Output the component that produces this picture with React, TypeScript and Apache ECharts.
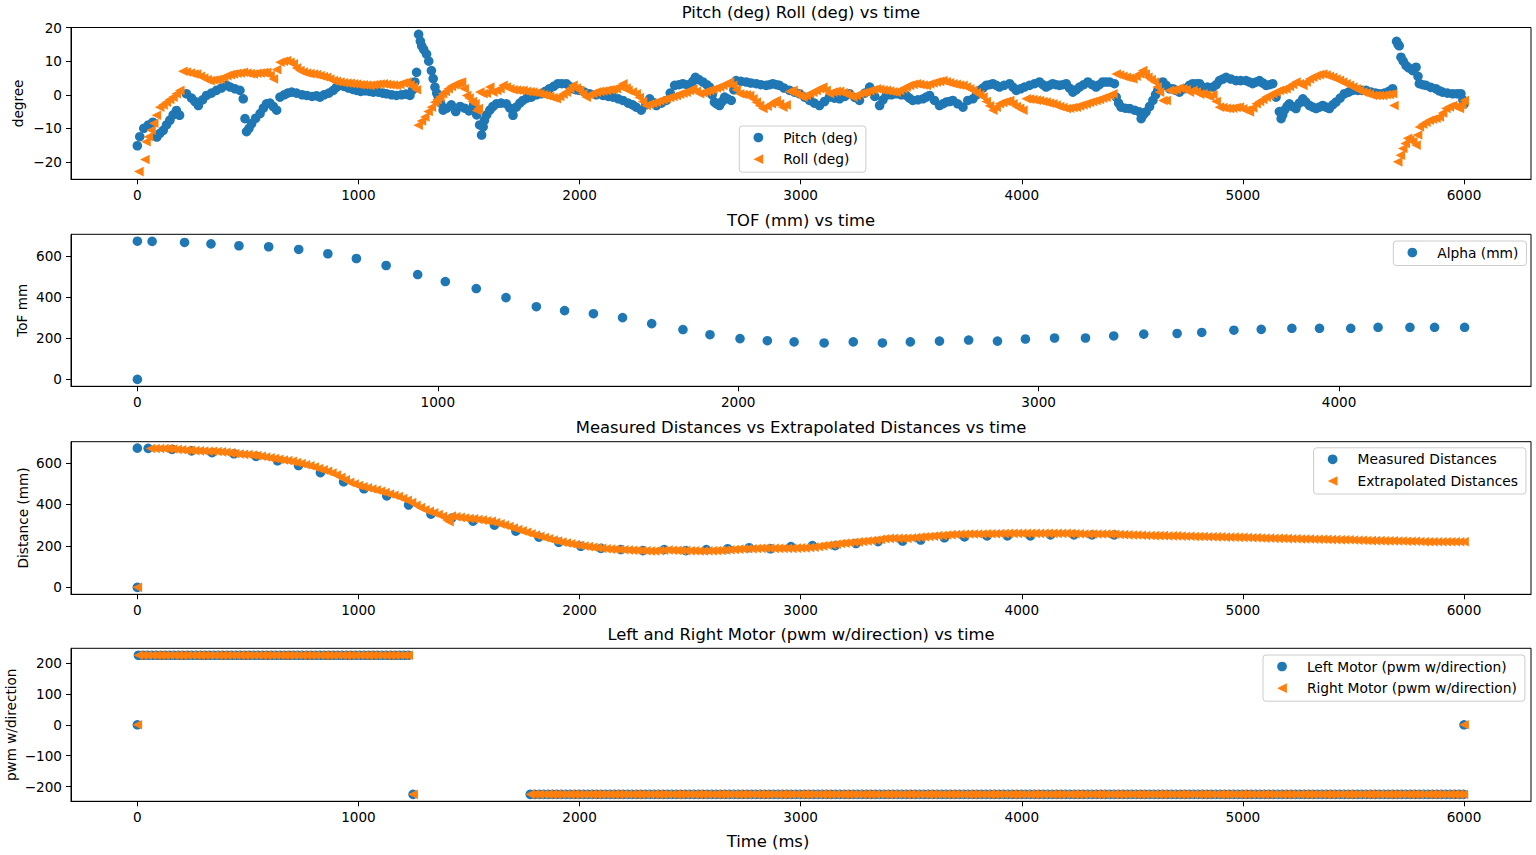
import { useEffect, useRef } from 'react';
import * as echarts from 'echarts';

const BLUE = '#1f77b4';
const ORANGE = '#ff7f0e';
const FONT = 'DejaVu Sans';
const TRIANGLE_LEFT = 'path://M0,5L10,0L10,10Z';

// [time ms, degrees]
const pitch = [
  [0, -15.2], [11, -12.5], [29, -10], [50, -9], [70, -8.2], [88, -12.6], [102, -11.5], [117, -10.6], [132, -9], [147, -7.6],
  [162, -6], [177, -4.7], [191, -6.1], [222, 0.3], [245, -1], [260, -2], [276, -3.2], [295, -1.5], [313, -0.2], [335, 0.5],
  [358, 1.3], [380, 2], [404, 2.8], [420, 2.3], [441, 1.8], [464, 1.3], [479, -1.2], [487, -7.1], [494, -11], [505, -10],
  [517, -8.6], [535, -7], [555, -5.6], [570, -4], [584, -2.7], [600, -2.5], [615, -3.5], [630, -4.6], [645, -0.7], [665, 0],
  [680, 0.5], [698, 0.8], [720, 0.5], [745, 0], [766, -0.2], [790, -0.5], [810, -0.3], [826, -0.7], [845, 0], [866, 0.5],
  [886, 1.3], [900, 2.2], [916, 2.8], [935, 2.5], [955, 2], [975, 1.6], [992, 1.3], [1010, 1], [1030, 1.2], [1050, 1],
  [1067, 0.8], [1090, 0.8], [1110, 0.5], [1127, 0.3], [1150, 0], [1172, -0.2], [1195, 0], [1215, 0.2], [1233, -0.2], [1245, 1.5],
  [1255, 3.8], [1263, 6.7], [1272, 18], [1280, 16], [1286, 14.6], [1295, 13.5], [1308, 12.1], [1318, 10], [1330, 7.2], [1338, 4.8],
  [1346, 2.3], [1354, 0.5], [1361, -0.7], [1372, -2.5], [1383, -4.6], [1400, -4], [1420, -3], [1440, -5], [1460, -3.5], [1480, -4],
  [1500, -4.8], [1520, -3.2], [1535, -6], [1548, -9], [1557, -12], [1564, -9.6], [1570, -7.6], [1580, -6], [1594, -4.6], [1608, -3.5],
  [1624, -2.7], [1645, -2.5], [1669, -2.7], [1685, -4], [1699, -6.1], [1714, -3.7], [1730, -2.5], [1744, -1.7], [1762, -1], [1782, -0.7],
  [1805, 0], [1827, 0.3], [1845, 1], [1864, 1.8], [1883, 2.5], [1902, 3.3], [1920, 3.3], [1940, 3.3], [1955, 2.5], [1970, 1.8],
  [1985, 1.5], [2000, 1.3], [2022, 0.8], [2045, 0.3], [2075, 0], [2106, -0.2], [2130, -0.5], [2151, -0.7], [2175, -1.2], [2196, -1.7],
  [2220, -2.5], [2240, -3], [2256, -3.7], [2279, -4.6], [2300, -3], [2317, -1.2], [2333, -2.3], [2347, -3.2], [2370, -2.5], [2392, -1.7],
  [2410, 0.5], [2430, 2.8], [2450, 3], [2467, 3.3], [2485, 3], [2497, 2.8], [2512, 4], [2524, 5.2], [2540, 4.5], [2558, 3.8],
  [2575, 3], [2588, 2.3], [2600, 0], [2610, -2.2], [2620, -2.7], [2633, -3.2], [2645, -2], [2656, -0.7], [2670, -1.2], [2686, -1.7],
  [2698, 1.5], [2708, 4.2], [2730, 4], [2754, 3.8], [2775, 3.5], [2799, 3.3], [2820, 3], [2844, 2.8], [2860, 3], [2874, 3.3],
  [2890, 3], [2904, 2.8], [2925, 2], [2950, 1.3], [2972, 0.8], [2995, 0.3], [3018, -0.7], [3040, -1.7], [3062, -2.5], [3085, -3.2],
  [3108, -2], [3130, -0.7], [3153, -1], [3176, -1.2], [3200, -0.5], [3221, 0.3], [3245, -0.8], [3266, -1.7], [3290, 0.5], [3312, 2.3],
  [3335, -0.5], [3357, -3.2], [3372, -1.5], [3387, -0.2], [3410, 0], [3432, 0.3], [3455, 0], [3477, -0.2], [3492, -1], [3507, -1.7],
  [3530, -1.5], [3553, -1.2], [3568, -0.7], [3583, -0.2], [3605, -1.7], [3628, -3.2], [3643, -2.7], [3658, -2.2], [3675, -2], [3688, -1.7],
  [3710, -2.7], [3734, -3.7], [3756, -1.7], [3779, -1.2], [3795, 0], [3809, 1.3], [3824, 2], [3839, 2.8], [3855, 3], [3869, 3.3],
  [3885, 2.8], [3899, 2.3], [3920, 2.8], [3945, 3.3], [3960, 2.3], [3975, 1.3], [3995, 1.8], [4012, 2.3], [4035, 2.8], [4058, 3.3],
  [4080, 3.8], [4095, 3], [4110, 2.3], [4125, 2.8], [4140, 3.3], [4155, 3], [4171, 2.8], [4186, 3], [4201, 3.3], [4216, 2],
  [4231, 0.8], [4246, 1.5], [4261, 2.3], [4280, 3], [4299, 3.8], [4318, 3], [4336, 2.3], [4351, 3], [4366, 3.8], [4381, 3.8],
  [4397, 3.8], [4419, 3.3], [4427, -0.7], [4438, -2.5], [4449, -3.7], [4468, -4], [4487, -4.1], [4510, -4.6], [4532, -5.1], [4540, -7.1],
  [4550, -6], [4562, -5.1], [4578, -3.5], [4593, -1.7], [4605, 0], [4615, 1.3], [4628, 2.8], [4638, 3.8], [4653, 2.8], [4668, 1.8],
  [4683, 1.8], [4698, 1.3], [4713, 0.8], [4735, 1.8], [4758, 2.8], [4773, 3.3], [4790, 3.3], [4804, 3.3], [4818, 2.3], [4840, 2.3],
  [4864, 2.3], [4880, 3], [4894, 4.2], [4910, 4.7], [4924, 5.2], [4945, 4.7], [4969, 4.2], [4990, 4.2], [5014, 4.2], [5030, 3.8],
  [5044, 3.3], [5060, 3.8], [5075, 4.2], [5090, 3.5], [5105, 2.8], [5120, 3], [5135, 3.3], [5150, -0.7], [5165, -5], [5173, -7.1],
  [5180, -6], [5188, -4.6], [5200, -3.5], [5210, -2.7], [5225, -3.5], [5240, -4.1], [5255, -2.5], [5271, -1.2], [5285, -2.2], [5301, -3.2],
  [5316, -3.7], [5331, -4.1], [5346, -3.7], [5361, -3.2], [5376, -3.7], [5391, -4.1], [5406, -3], [5421, -2.2], [5440, -1], [5459, 0.3],
  [5478, 0.8], [5497, 1.3], [5520, 1.3], [5540, 1.3], [5557, 1.3], [5580, 0.8], [5600, 0.5], [5617, 0.3], [5640, 0.5], [5660, 1],
  [5677, 1.8], [5695, 15.9], [5702, 15], [5707, 14.6], [5715, 11.2], [5725, 10], [5738, 8.7], [5750, 8], [5768, 7.2], [5783, 8.2],
  [5792, 5.5], [5798, 3.3], [5813, 3], [5828, 2.8], [5850, 2.2], [5873, 1.8], [5888, 1.2], [5903, 0.8], [5925, 0.5], [5949, 0.3],
  [5970, 0.3], [5986, 0.3], [5995, -1.5], [6001, -2.7],
];

const roll = [
  [7, -22.9], [34, -19.3], [39, -14], [50, -12.5], [62, -10.6], [74, -8.5], [86, -6.1], [101, -3.7], [116, -3], [131, -2.2],
  [146, -1.4], [161, -0.7], [176, 0.3], [192, 1.3], [206, 7], [222, 6.8], [240, 6.5], [255, 6.2], [268, 6.2], [285, 5.5],
  [300, 5], [315, 4.5], [329, 4.2], [345, 4.4], [360, 4.5], [374, 4.7], [390, 5.2], [405, 5.7], [420, 6], [434, 6.2],
  [450, 6.4], [465, 6.5], [479, 6.7], [495, 6.5], [510, 6.3], [524, 6.2], [540, 6.4], [555, 6.5], [570, 6.6], [585, 6.7],
  [600, 5.8], [615, 4.7], [630, 7.5], [645, 9.7], [660, 10], [675, 10.2], [690, 9.7], [705, 9.2], [720, 8], [735, 7.2],
  [750, 6.8], [765, 6.5], [780, 6.3], [796, 6.2], [810, 6], [826, 5.7], [841, 5.4], [856, 5.2], [870, 4.7], [886, 4.2],
  [900, 4], [916, 3.8], [932, 3.6], [947, 3.5], [962, 3.4], [977, 3.3], [992, 3.2], [1007, 3], [1022, 3], [1037, 2.9],
  [1052, 2.8], [1067, 3], [1082, 3.1], [1097, 3.2], [1112, 3.3], [1127, 3.1], [1142, 3], [1157, 2.9], [1172, 2.8], [1187, 3.1],
  [1202, 3.5], [1218, 3.8], [1233, 3], [1248, 2.3], [1262, 1.5], [1270, -9.1], [1285, -7.8], [1300, -6.6], [1315, -5], [1330, -3.7],
  [1345, -2.2], [1355, -1.5], [1368, -0.7], [1380, 0.3], [1393, 1], [1406, 1.8], [1420, 2.5], [1434, 3], [1444, 3.3], [1455, 3.5],
  [1466, 3.8], [1478, 1.8], [1489, -0.2], [1500, -1], [1515, -2], [1527, -2.7], [1535, -4.7], [1542, -4.1], [1549, 0.8], [1563, 0.3],
  [1578, 0.5], [1594, 2.3], [1608, 0.8], [1625, 1.3], [1640, 1.8], [1654, 2.8], [1669, 2.3], [1684, 1.8], [1699, 1.5], [1714, 1.4],
  [1729, 1.3], [1744, 1.3], [1760, 1], [1775, 0.9], [1789, 0.8], [1805, 0.6], [1820, 0.3], [1835, 0], [1849, -0.2], [1865, -0.5],
  [1880, -0.9], [1895, -1.2], [1910, -0.5], [1925, 0.2], [1940, 0.8], [1955, 1.8], [1970, 2.8], [1985, 2], [2000, 1.3], [2015, 0.3],
  [2030, -0.7], [2045, 0], [2060, 0.4], [2075, 0.8], [2090, 1], [2105, 1.1], [2121, 1.3], [2136, 1.5], [2151, 1.6], [2166, 1.8],
  [2181, 2.5], [2196, 3.3], [2210, 2], [2219, 1.3], [2238, 0.8], [2256, 0.3], [2270, -0.8], [2285, -2], [2301, -3.2], [2316, -2.8],
  [2331, -2.5], [2347, -2.2], [2362, -1.8], [2377, -1.5], [2392, -1.2], [2407, -0.8], [2422, -0.5], [2437, -0.2], [2452, 0.2], [2467, 0.5],
  [2482, 0.8], [2497, 1.3], [2512, 1.8], [2528, 1], [2543, 0.3], [2558, 0.6], [2573, 1], [2588, 1.3], [2603, 1.6], [2618, 2],
  [2633, 2.3], [2648, 2.8], [2663, 3.3], [2678, 3.8], [2693, 2.8], [2708, 1.5], [2724, 0.3], [2739, 0.1], [2754, 0], [2769, -0.2],
  [2784, -1.2], [2799, -2.2], [2814, -3.2], [2829, -4.1], [2848, -3.4], [2867, -2.7], [2878, -2.2], [2889, -1.7], [2904, -2.7], [2919, -3.7],
  [2934, -3], [2950, 1], [2965, 1.3], [2980, 0.3], [2995, -0.3], [3010, -0.7], [3025, -0.2], [3040, 0.3], [3055, 0.8], [3070, 1.3],
  [3085, 1.8], [3100, 2.3], [3115, 1.3], [3130, 0.3], [3145, 0.8], [3160, 1], [3176, 1], [3191, 0.6], [3206, 0.2], [3221, -0.2],
  [3236, -0.7], [3251, -0.2], [3266, 0.3], [3282, 0.6], [3297, 0.8], [3312, 1.2], [3327, 1.5], [3342, 1.8], [3357, 1.6], [3372, 1.4],
  [3387, 1.3], [3402, 1.1], [3417, 0.9], [3432, 0.8], [3447, 1.3], [3462, 1.8], [3477, 2.3], [3492, 2.8], [3508, 3.1], [3523, 3.3],
  [3538, 3.1], [3553, 2.9], [3568, 2.8], [3583, 3.2], [3598, 3.5], [3613, 3.8], [3628, 4], [3643, 4.2], [3658, 3.9], [3673, 3.6],
  [3688, 3.3], [3703, 3.1], [3718, 2.9], [3734, 2.8], [3749, 2.3], [3764, 1.8], [3779, 1.3], [3794, 0.6], [3809, 0], [3824, -0.7],
  [3839, -2], [3854, -3.3], [3869, -4.6], [3884, -3.7], [3899, -2.7], [3914, -2.3], [3929, -2], [3945, -1.7], [3960, -2.7], [3975, -3.5],
  [3990, -4], [4005, -4.6], [4020, -1.2], [4035, -1.3], [4050, -1.4], [4065, -1.6], [4080, -1.7], [4095, -2], [4110, -2.2], [4125, -2.5],
  [4140, -2.7], [4155, -3.1], [4171, -3.5], [4186, -3.8], [4201, -4.1], [4216, -4], [4231, -3.8], [4246, -3.7], [4261, -3.3], [4276, -3],
  [4291, -2.7], [4306, -2.3], [4321, -2], [4336, -1.7], [4351, -1.4], [4366, -1], [4381, -0.7], [4397, -0.2], [4412, 0.3], [4427, 6.2],
  [4442, 5.9], [4457, 5.5], [4472, 5.2], [4487, 5], [4502, 4.7], [4517, 5.5], [4532, 6.3], [4547, 7.2], [4558, 6.2], [4570, 5.2],
  [4585, 4.5], [4600, 3.8], [4612, 2.3], [4623, 0.8], [4638, -1.7], [4653, -1.7], [4668, 1.3], [4683, 1.3], [4698, 1.6], [4713, 2],
  [4728, 1.8], [4743, 1.5], [4758, 0.8], [4774, 1.3], [4789, 0.8], [4804, 0.2], [4819, 0.3], [4834, -0.1], [4849, -0.5], [4864, 0],
  [4879, -2], [4894, -3.7], [4909, -3.8], [4924, -4], [4939, -4.1], [4954, -4], [4969, -3.8], [4984, -3.7], [4999, -4.2], [5014, -4.6],
  [5029, -5.1], [5044, -3.9], [5060, -2.7], [5075, -2], [5090, -1.4], [5105, -0.7], [5120, -0.2], [5135, 0.3], [5150, 0.8], [5165, 1.3],
  [5180, 1.5], [5195, 1.8], [5210, 2.5], [5225, 3.1], [5240, 3.8], [5255, 3.3], [5271, 2.8], [5286, 3.8], [5301, 4.7], [5316, 5.2],
  [5331, 5.7], [5346, 6], [5361, 6.2], [5376, 5.9], [5391, 5.5], [5406, 5.2], [5421, 4.7], [5436, 4.3], [5451, 3.8], [5466, 3.3],
  [5482, 2.8], [5497, 2.3], [5512, 1.8], [5527, 1.3], [5542, 0.8], [5557, 0.5], [5572, 0.2], [5587, -0.2], [5602, -0.2], [5617, -0.2],
  [5632, -0.2], [5647, 0], [5662, 0.1], [5677, 0.3], [5683, -3.2], [5700, -20], [5712, -18], [5723, -16], [5734, -14.5], [5745, -13],
  [5755, -13.5], [5768, -14], [5783, -15], [5790, -12], [5798, -9.6], [5813, -8.8], [5828, -8.2], [5843, -7.6], [5858, -7.3], [5873, -7],
  [5888, -6.6], [5903, -5.4], [5918, -4.1], [5933, -3.6], [5949, -3.2], [5964, -3.6], [5979, -4.1], [5990, -2.9], [6001, -1.7],
];

// time-of-flight readings (ms, mm)
const tofTimes = [
  0, 0, 49, 157, 245, 338, 437, 537, 634, 729, 828, 933, 1025, 1128, 1227, 1328, 1422, 1518, 1615, 1712, 1816, 1906, 2006, 2097,
  2186, 2286, 2383, 2480, 2573, 2670, 2767, 2863, 2956, 3053, 3156, 3250, 3350, 3461, 3543, 3650, 3741, 3843, 3935, 4039, 4130, 4236,
  4318, 4418,
];
const tofValues = [
  0, 671, 670, 665, 658, 649, 644, 631, 610, 587, 553, 509, 475, 441, 397, 353, 334, 319, 300, 271, 242, 217, 198, 188,
  182, 177, 182, 177, 182, 186, 191, 186, 196, 201, 201, 211, 220, 223, 228, 239, 243, 248, 248, 248, 253, 253,
  253, 253,
];

// [time ms, mm]
const extrapolated = [
  [0, 0], [60, 669], [80, 669], [100, 669], [120, 669], [140, 668], [160, 667], [180, 665], [200, 663], [220, 661],
  [240, 660], [260, 659], [280, 658], [300, 657], [320, 656], [340, 656], [360, 655], [380, 653], [400, 651], [420, 648],
  [440, 645], [460, 643], [480, 641], [500, 640], [520, 638], [540, 635], [560, 632], [580, 628], [600, 624], [620, 621],
  [640, 617], [660, 614], [680, 611], [700, 607], [720, 602], [740, 597], [760, 591], [780, 586], [800, 580], [820, 573],
  [840, 566], [860, 559], [880, 551], [900, 541], [920, 530], [940, 518], [960, 506], [980, 498], [1000, 491], [1020, 485],
  [1040, 480], [1060, 474], [1080, 469], [1100, 463], [1120, 457], [1140, 450], [1160, 444], [1180, 437], [1200, 428], [1220, 420],
  [1240, 409], [1260, 396], [1280, 384], [1300, 374], [1320, 366], [1340, 359], [1360, 351], [1380, 342], [1400, 325], [1410, 316],
  [1420, 344], [1440, 340], [1460, 337], [1480, 334], [1500, 332], [1520, 330], [1540, 327], [1560, 324], [1580, 321], [1600, 318],
  [1620, 312], [1640, 306], [1660, 300], [1680, 293], [1700, 286], [1720, 279], [1740, 272], [1760, 265], [1780, 258], [1800, 252],
  [1820, 246], [1840, 240], [1860, 234], [1880, 228], [1900, 223], [1920, 218], [1940, 214], [1960, 210], [1980, 206], [2000, 202],
  [2020, 199], [2040, 196], [2060, 193], [2080, 191], [2100, 188], [2120, 186], [2140, 184], [2160, 183], [2180, 182], [2200, 181],
  [2220, 180], [2240, 179], [2260, 178], [2280, 177], [2300, 176], [2320, 175], [2340, 175], [2360, 177], [2380, 179], [2400, 180],
  [2420, 179], [2440, 178], [2460, 177], [2480, 177], [2500, 176], [2520, 176], [2540, 175], [2560, 175], [2580, 176], [2600, 176],
  [2620, 177], [2640, 178], [2660, 180], [2680, 181], [2700, 182], [2720, 184], [2740, 185], [2760, 186], [2780, 186], [2800, 187],
  [2820, 188], [2840, 189], [2860, 188], [2880, 188], [2900, 188], [2920, 188], [2940, 188], [2960, 188], [2980, 189], [3000, 190],
  [3020, 190], [3040, 192], [3060, 194], [3080, 197], [3100, 200], [3120, 203], [3140, 205], [3160, 208], [3180, 211], [3200, 213],
  [3220, 215], [3240, 217], [3260, 219], [3280, 221], [3300, 223], [3320, 225], [3340, 228], [3360, 231], [3380, 234], [3400, 236],
  [3420, 236], [3440, 236], [3460, 236], [3480, 236], [3500, 238], [3520, 240], [3540, 242], [3560, 244], [3580, 245], [3600, 247],
  [3620, 249], [3640, 250], [3660, 252], [3680, 254], [3700, 255], [3720, 256], [3740, 256], [3760, 257], [3780, 257], [3800, 257],
  [3820, 257], [3840, 258], [3860, 258], [3880, 258], [3900, 259], [3920, 259], [3940, 260], [3960, 260], [3980, 260], [4000, 260],
  [4020, 260], [4040, 260], [4060, 260], [4080, 260], [4100, 260], [4120, 260], [4140, 260], [4160, 260], [4180, 260], [4200, 260],
  [4220, 259], [4240, 258], [4260, 258], [4280, 257], [4300, 257], [4320, 257], [4340, 257], [4360, 257], [4380, 257], [4400, 257],
  [4420, 256], [4440, 255], [4460, 254], [4480, 253], [4500, 252], [4520, 252], [4540, 251], [4560, 250], [4580, 250], [4600, 249],
  [4620, 249], [4640, 249], [4660, 248], [4680, 248], [4700, 248], [4720, 247], [4740, 246], [4760, 246], [4780, 245], [4800, 245],
  [4820, 245], [4840, 244], [4860, 244], [4880, 243], [4900, 243], [4920, 242], [4940, 242], [4960, 242], [4980, 241], [5000, 241],
  [5020, 240], [5040, 239], [5060, 239], [5080, 238], [5100, 237], [5120, 237], [5140, 236], [5160, 236], [5180, 236], [5200, 235],
  [5220, 234], [5240, 234], [5260, 233], [5280, 233], [5300, 233], [5320, 232], [5340, 232], [5360, 232], [5380, 231], [5400, 230],
  [5420, 230], [5440, 229], [5460, 229], [5480, 229], [5500, 228], [5520, 227], [5540, 227], [5560, 226], [5580, 225], [5600, 225],
  [5620, 225], [5640, 224], [5660, 224], [5680, 224], [5700, 223], [5720, 223], [5740, 222], [5760, 222], [5780, 222], [5800, 221],
  [5820, 220], [5840, 220], [5860, 220], [5880, 220], [5900, 220], [5920, 220], [5940, 220], [5960, 220], [5980, 220], [6000, 220],
];

// motor samples (ms); both motors share the same timestamps and values
const motorForwardTimes = [
  5, 25, 45, 65, 85, 105, 125, 145, 165, 185, 205, 225, 245, 265, 285, 305, 325, 345, 365, 385,
  405, 425, 445, 465, 485, 505, 525, 545, 565, 585, 605, 625, 645, 665, 685, 705, 725, 745, 765, 785,
  805, 825, 845, 865, 885, 905, 925, 945, 965, 985, 1005, 1025, 1045, 1065, 1085, 1105, 1125, 1145, 1165, 1185,
  1205, 1225,
];
const motorReverseTimes = [
  1777, 1797, 1817, 1837, 1857, 1877, 1897, 1917, 1937, 1957, 1977, 1997, 2017, 2037, 2057, 2077, 2097, 2117, 2137, 2157,
  2177, 2197, 2217, 2237, 2257, 2277, 2297, 2317, 2337, 2357, 2377, 2397, 2417, 2437, 2457, 2477, 2497, 2517, 2537, 2557,
  2577, 2597, 2617, 2637, 2657, 2677, 2697, 2717, 2737, 2757, 2777, 2797, 2817, 2837, 2857, 2877, 2897, 2917, 2937, 2957,
  2977, 2997, 3017, 3037, 3057, 3077, 3097, 3117, 3137, 3157, 3177, 3197, 3217, 3237, 3257, 3277, 3297, 3317, 3337, 3357,
  3377, 3397, 3417, 3437, 3457, 3477, 3497, 3517, 3537, 3557, 3577, 3597, 3617, 3637, 3657, 3677, 3697, 3717, 3737, 3757,
  3777, 3797, 3817, 3837, 3857, 3877, 3897, 3917, 3937, 3957, 3977, 3997, 4017, 4037, 4057, 4077, 4097, 4117, 4137, 4157,
  4177, 4197, 4217, 4237, 4257, 4277, 4297, 4317, 4337, 4357, 4377, 4397, 4417, 4437, 4457, 4477, 4497, 4517, 4537, 4557,
  4577, 4597, 4617, 4637, 4657, 4677, 4697, 4717, 4737, 4757, 4777, 4797, 4817, 4837, 4857, 4877, 4897, 4917, 4937, 4957,
  4977, 4997, 5017, 5037, 5057, 5077, 5097, 5117, 5137, 5157, 5177, 5197, 5217, 5237, 5257, 5277, 5297, 5317, 5337, 5357,
  5377, 5397, 5417, 5437, 5457, 5477, 5497, 5517, 5537, 5557, 5577, 5597, 5617, 5637, 5657, 5677, 5697, 5717, 5737, 5757,
  5777, 5797, 5817, 5837, 5857, 5877, 5897, 5917, 5937, 5957, 5977, 5997,
];
const motorTurnTimes = [1247];
const motorStartTimes = [0];
const motorStopTimes = [6000];
const motorForwardPwm = 225;
const motorReversePwm = -225;

const timeTicks = [0, 1000, 2000, 3000, 4000, 5000, 6000];
const tofTimeTicks = [0, 1000, 2000, 3000, 4000];
const degreeTicks = [-20, -10, 0, 10, 20];
const distanceTicks = [0, 200, 400, 600];
const pwmTicks = [-200, -100, 0, 100, 200];

const TICK_FONT = 13.6;
const LEGEND_FONT = 13.8;
const TITLE_FONT = 16.4;

const fmt = (v: number) => String(v).replace('-', '\u2212');

const xAxisFor = (gridIndex: number, min: number, max: number, ticks: number[]) => ({
  type: 'value',
  gridIndex,
  min,
  max,
  splitLine: { show: false },
  axisLine: { show: true, onZero: false, lineStyle: { color: '#000', width: 1 } },
  axisTick: { show: true, length: 5, customValues: ticks, lineStyle: { color: '#000', width: 1 } },
  axisLabel: { customValues: ticks, formatter: fmt, margin: 9, color: '#000', fontFamily: FONT, fontSize: TICK_FONT },
});

const yAxisFor = (gridIndex: number, min: number, max: number, ticks: number[], name: string, nameGap: number) => ({
  type: 'value',
  gridIndex,
  min,
  max,
  name,
  nameLocation: 'middle',
  nameGap,
  nameMoveOverlap: false,
  nameTextStyle: { color: '#000', fontFamily: FONT, fontSize: TICK_FONT },
  splitLine: { show: false },
  axisLine: { show: true, onZero: false, lineStyle: { color: '#000', width: 1 } },
  axisTick: { show: true, length: 5, customValues: ticks, lineStyle: { color: '#000', width: 1 } },
  axisLabel: { customValues: ticks, formatter: fmt, margin: 9, color: '#000', fontFamily: FONT, fontSize: TICK_FONT },
});

const legendText = { color: '#000', fontFamily: FONT, fontSize: LEGEND_FONT, lineHeight: 16 };

const legendAt = (left: number, top: number, items: { name: string; icon: string }[]) => ({
  orient: 'vertical',
  left,
  top,
  data: items,
  itemWidth: 9.7,
  itemHeight: 9.7,
  itemGap: 5.7,
  padding: [3.5, 8, 5, 14.2],
  backgroundColor: 'rgba(255,255,255,0.8)',
  borderColor: '#cccccc',
  borderWidth: 1,
  borderRadius: 3,
  selectedMode: false,
  formatter: (name: string) => `{t|${name}}`,
  textStyle: { ...legendText, rich: { t: { ...legendText, padding: [0, 0, 0, 15] } } },
});

const titleAt = (text: string, left: number, top: number) => ({
  text,
  left,
  top,
  padding: 0,
  textAlign: 'center',
  textVerticalAlign: 'middle',
  textStyle: { color: '#000', fontFamily: FONT, fontSize: TITLE_FONT, fontWeight: 'normal' },
});

const gridAt = (top: number, height: number) => ({
  left: 71,
  top,
  width: 1460,
  height,
  show: true,
  borderColor: '#000',
  borderWidth: 1,
  backgroundColor: 'transparent',
  outerBoundsMode: 'none',
  containLabel: false,
});

const scatter = (name: string, axis: number, data: number[][], color: string, symbol: string) => ({
  name,
  type: 'scatter',
  xAxisIndex: axis,
  yAxisIndex: axis,
  data,
  symbol,
  symbolSize: 9.6,
  itemStyle: { color, opacity: 1 },
  silent: true,
});

export default function App() {
  const chartRef = useRef<HTMLDivElement>(null);

  useEffect(() => {
    if (!chartRef.current) return;
    const chart = echarts.init(chartRef.current, null, { renderer: 'svg' });

    const tof = tofTimes.map((t, i) => [t, tofValues[i]]);
    const motor = [
      ...motorStartTimes.map((t) => [t, 0]),
      ...motorForwardTimes.map((t) => [t, motorForwardPwm]),
      ...motorTurnTimes.map((t) => [t, motorReversePwm]),
      ...motorReverseTimes.map((t) => [t, motorReversePwm]),
      ...motorStopTimes.map((t) => [t, 0]),
    ];

    const option = {
      animation: false,
      backgroundColor: '#fff',
      title: [
        titleAt('Pitch (deg) Roll (deg) vs time', 801, 12.3),
        titleAt('TOF (mm) vs time', 801, 220),
        titleAt('Measured Distances vs Extrapolated Distances vs time', 801, 427.2),
        titleAt('Left and Right Motor (pwm w/direction) vs time', 801, 634.2),
        titleAt('Time (ms)', 768, 841.5),
      ],
      legend: [
        legendAt(739.3, 126, [
          { name: 'Pitch (deg)', icon: 'circle' },
          { name: 'Roll (deg)', icon: TRIANGLE_LEFT },
        ]),
        legendAt(1393.3, 241, [{ name: 'Alpha (mm)', icon: 'circle' }]),
        legendAt(1313.6, 447.8, [
          { name: 'Measured Distances', icon: 'circle' },
          { name: 'Extrapolated Distances', icon: TRIANGLE_LEFT },
        ]),
        legendAt(1263, 655, [
          { name: 'Left Motor (pwm w/direction)', icon: 'circle' },
          { name: 'Right Motor (pwm w/direction)', icon: TRIANGLE_LEFT },
        ]),
      ],
      grid: [gridAt(27.5, 151.8), gridAt(234.3, 152), gridAt(441.7, 152.6), gridAt(648.3, 153)],
      xAxis: [
        xAxisFor(0, -300, 6303, timeTicks),
        xAxisFor(1, -221, 4639, tofTimeTicks),
        xAxisFor(2, -300, 6303, timeTicks),
        xAxisFor(3, -300, 6303, timeTicks),
      ],
      yAxis: [
        yAxisFor(0, -25.2, 20.05, degreeTicks, 'degree', 46),
        yAxisFor(1, -33.5, 704.5, distanceTicks, 'ToF mm', 42),
        yAxisFor(2, -33.6, 702, distanceTicks, 'Distance (mm)', 41),
        yAxisFor(3, -247.5, 247.5, pwmTicks, 'pwm w/direction', 53),
      ],
      series: [
        scatter('Pitch (deg)', 0, pitch, BLUE, 'circle'),
        scatter('Roll (deg)', 0, roll, ORANGE, TRIANGLE_LEFT),
        scatter('Alpha (mm)', 1, tof, BLUE, 'circle'),
        scatter('Measured Distances', 2, tof, BLUE, 'circle'),
        scatter('Extrapolated Distances', 2, extrapolated, ORANGE, TRIANGLE_LEFT),
        scatter('Left Motor (pwm w/direction)', 3, motor, BLUE, 'circle'),
        scatter('Right Motor (pwm w/direction)', 3, motor, ORANGE, TRIANGLE_LEFT),
      ],
    };

    chart.setOption(option);

    const handleResize = () => chart.resize();
    window.addEventListener('resize', handleResize);

    return () => {
      window.removeEventListener('resize', handleResize);
      chart.dispose();
    };
  }, []);

  return (
    <div
      ref={chartRef}
      style={{ position: 'fixed', left: 0, top: 0, width: 1536, height: 855, background: '#fff' }}
    />
  );
}
